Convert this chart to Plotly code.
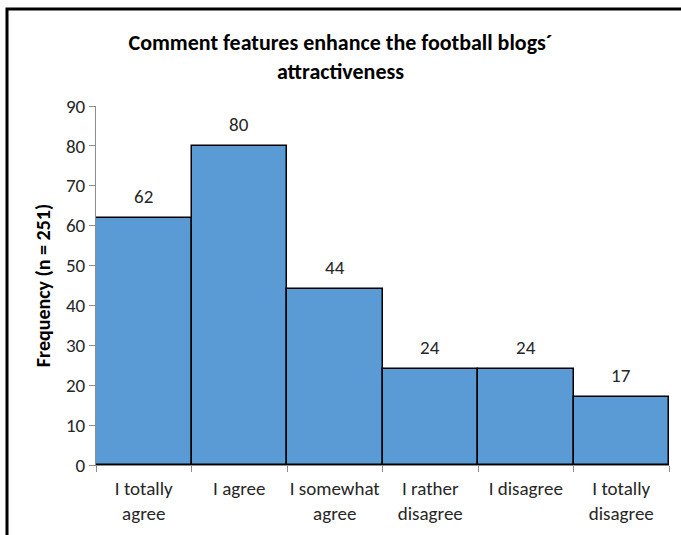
import plotly.graph_objects as go

# Survey responses and their counts
categories = ["I totally<br>agree", "I agree", "I somewhat<br>agree",
              "I rather<br>disagree", "I disagree", "I totally<br>disagree"]
frequencies = [62, 80, 44, 24, 24, 17]

title_text = "Comment features enhance the football blogs´<br>attractiveness"
y_title = "Frequency (n = 251)"

W, H = 681, 535
L, R, T, B = 96, 12, 106, 70
FONT = "Carlito, Lato, 'Open Sans', sans-serif"
TXT = "#262626"

fig = go.Figure(
    go.Bar(
        x=categories,
        y=frequencies,
        marker=dict(color="#5B9BD5", line=dict(color="#000000", width=1.5)),
        hoverinfo="x+y",
    )
)

# Value labels above each bar
for c, v in zip(categories, frequencies):
    fig.add_annotation(
        x=c, y=v, text=str(v), showarrow=False,
        yanchor="bottom", yshift=8,
        font=dict(size=19, color=TXT, family=FONT),
    )

# Outer frame around the chart (left and top edges)
pw, ph = W - L - R, H - T - B
def px_x(px):
    return (px - L) / pw
def px_y(py):
    return (H - B - py) / ph

fig.add_shape(
    type="path", xref="paper", yref="paper",
    path=f"M {px_x(7)},{px_y(H + 20)} L {px_x(7)},{px_y(9)} L {px_x(W + 20)},{px_y(9)}",
    line=dict(color="#000000", width=3),
)

fig.update_layout(
    width=W, height=H,
    margin=dict(l=L, r=R, t=T, b=B, autoexpand=False),
    paper_bgcolor="white", plot_bgcolor="white",
    bargap=0,
    showlegend=False,
    font=dict(family=FONT, size=19, color=TXT),
    title=dict(
        text=f"<b>{title_text}</b>",
        x=0.5, xref="container", xanchor="center",
        y=1 - 50 / H, yref="container", yanchor="middle",
        font=dict(size=22, color="#000000", family=FONT),
        automargin=False,
    ),
    xaxis=dict(
        type="category",
        automargin=False,
        tickangle=0,
        showline=True, linecolor="#8c8c8c", linewidth=1,
        ticks="outside", ticklen=6, tickcolor="#8c8c8c",
        tickson="boundaries",
        ticklabelstandoff=6,
        tickfont=dict(size=19, color=TXT),
        showgrid=False, zeroline=False,
    ),
    yaxis=dict(
        automargin=False,
        range=[0, 90], dtick=10,
        showline=True, linecolor="#8c8c8c", linewidth=1,
        ticks="outside", ticklen=6, tickcolor="#8c8c8c",
        tickfont=dict(size=19, color=TXT),
        showgrid=False, zeroline=False,
        title=dict(text=f"<b>{y_title}</b>", standoff=9,
                   font=dict(size=20, color="#000000")),
    ),
)

fig.write_html("out.html")
